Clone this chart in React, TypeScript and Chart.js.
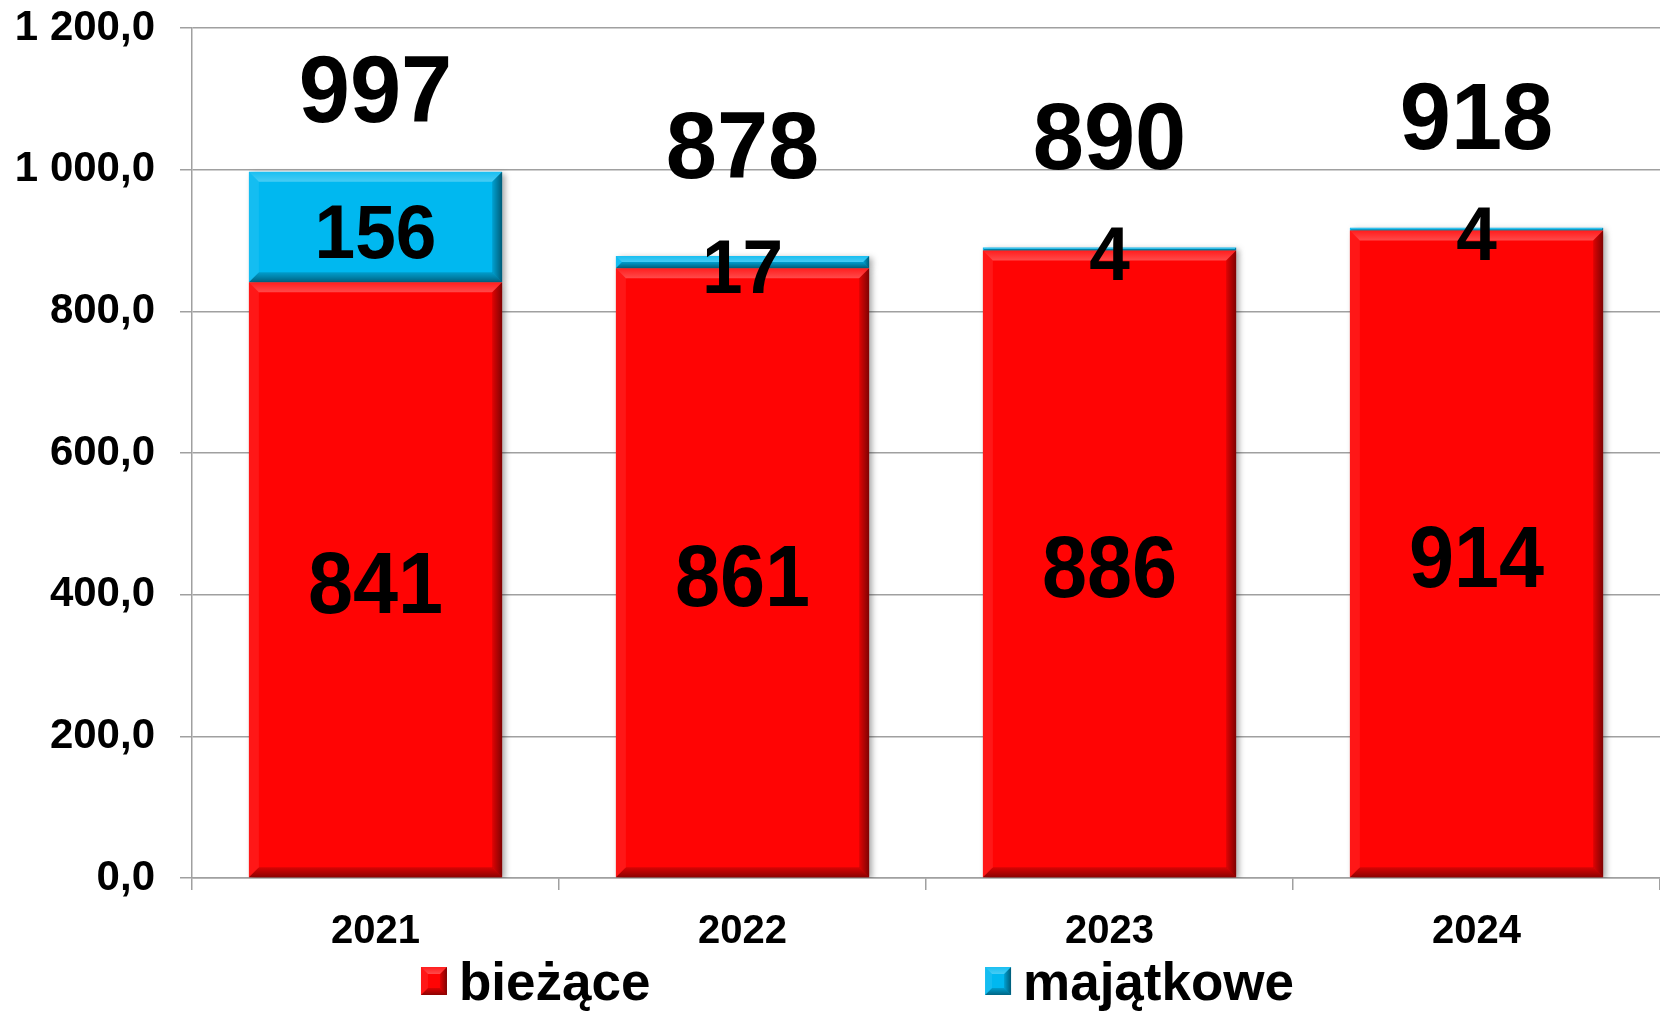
import React, { useEffect, useRef } from 'react';
import { Chart, registerables } from 'chart.js';

Chart.register(...registerables);

// ---- data ----
const categories = ['2021', '2022', '2023', '2024'];
const biezace = [841, 861, 886, 914];
const majatkowe = [156, 17, 4, 4];
const seriesLabels = ['bieżące', 'majątkowe'];
const yMin = 0;
const yMax = 1200;
const yStep = 200;

// ---- styles ----
const FONT = '"Liberation Sans", Arial, Helvetica, sans-serif';
const RED = '#FF0404';
const BLUE = '#00B8F0';
const GRID = '#a0a0a0';

function fmt(v: number): string {
  const [i, d] = v.toFixed(1).split('.');
  return i.replace(/\B(?=(\d{3})+(?!\d))/g, ' ') + ',' + d;
}

function poly(ctx: CanvasRenderingContext2D, pts: number[][], fill: string | CanvasGradient) {
  ctx.beginPath();
  ctx.moveTo(pts[0][0], pts[0][1]);
  for (let i = 1; i < pts.length; i++) ctx.lineTo(pts[i][0], pts[i][1]);
  ctx.closePath();
  ctx.fillStyle = fill;
  ctx.fill();
}

function bevel(ctx: CanvasRenderingContext2D, l: number, t: number, r: number, b: number, size: number) {
  const e = Math.max(0, Math.min(size, (b - t) / 2, (r - l) / 2));
  if (e <= 0) return;
  const gTop = ctx.createLinearGradient(0, t, 0, t + e);
  gTop.addColorStop(0, 'rgba(255,255,255,0.10)');
  gTop.addColorStop(1, 'rgba(255,255,255,0.28)');
  poly(ctx, [[l, t], [r, t], [r - e, t + e], [l + e, t + e]], gTop);
  const gBot = ctx.createLinearGradient(0, b - e, 0, b);
  gBot.addColorStop(0, 'rgba(0,0,0,0.15)');
  gBot.addColorStop(1, 'rgba(0,0,0,0.45)');
  poly(ctx, [[l, b], [r, b], [r - e, b - e], [l + e, b - e]], gBot);
  poly(ctx, [[l, t], [l + e, t + e], [l + e, b - e], [l, b]], 'rgba(255,255,255,0.08)');
  const gR = ctx.createLinearGradient(r - e, 0, r, 0);
  gR.addColorStop(0, 'rgba(0,0,0,0.12)');
  gR.addColorStop(1, 'rgba(0,0,0,0.5)');
  poly(ctx, [[r, t], [r - e, t + e], [r - e, b - e], [r, b]], gR);
}

// draws text so that the digit glyphs are visually centred on (x, cy), optionally stretched vertically
function centredText(ctx: CanvasRenderingContext2D, text: string, x: number, cy: number, size: number, sy = 1) {
  ctx.save();
  ctx.translate(x, cy);
  ctx.scale(1, sy);
  ctx.font = `bold ${size}px ${FONT}`;
  ctx.textAlign = 'center';
  ctx.textBaseline = 'alphabetic';
  ctx.fillText(text, 0, size * 0.358);
  ctx.restore();
}

const decorPlugin = {
  id: 'decor',
  beforeDatasetsDraw(chart: any) {
    const ctx = chart.ctx;
    ctx.save();
    ctx.shadowColor = 'rgba(0,0,0,0.35)';
    ctx.shadowBlur = 6;
    ctx.shadowOffsetX = 3;
    ctx.shadowOffsetY = 2;
  },
  afterDatasetsDraw(chart: any) {
    const ctx: CanvasRenderingContext2D = chart.ctx;
    ctx.restore();
    const area = chart.chartArea;
    // bevels
    chart.data.datasets.forEach((ds: any, di: number) => {
      const meta = chart.getDatasetMeta(di);
      meta.data.forEach((el: any) => {
        const p = el.getProps(['x', 'y', 'base', 'width'], true);
        const l = p.x - p.width / 2;
        const r = p.x + p.width / 2;
        const t = Math.min(p.y, p.base);
        const b = Math.max(p.y, p.base);
        bevel(ctx, l, t, r, b, 10);
      });
    });
    // value labels
    ctx.save();
    ctx.fillStyle = '#000';
    const sizes = [81, 73];
    const stretch = [1.08, 1.04];
    const shifts = [2, 4];
    chart.data.datasets.forEach((ds: any, di: number) => {
      const meta = chart.getDatasetMeta(di);
      meta.data.forEach((el: any, i: number) => {
        const p = el.getProps(['x', 'y', 'base'], true);
        const cy = (p.y + p.base) / 2 + shifts[di];
        centredText(ctx, String(ds.data[i]), p.x, cy, sizes[di], stretch[di]);
      });
    });
    // totals
    const lastMeta = chart.getDatasetMeta(chart.data.datasets.length - 1);
    categories.forEach((_, i) => {
      const total = chart.data.datasets.reduce((s: number, ds: any) => s + ds.data[i], 0);
      const el = lastMeta.data[i];
      const p = el.getProps(['x', 'y'], true);
      const cy = Math.max(p.y - 112, area.top + 60);
      centredText(ctx, String(total), p.x, cy, 92, 1.02);
    });
    ctx.restore();
  },
  afterDraw(chart: any) {
    // legend
    const ctx: CanvasRenderingContext2D = chart.ctx;
    const W = chart.width;
    const starts = [0.2536, 0.5934];
    const baseY = chart.chartArea.bottom + 122;
    ctx.save();
    ctx.font = `bold 53px ${FONT}`;
    ctx.textAlign = 'left';
    ctx.textBaseline = 'alphabetic';
    chart.data.datasets.forEach((ds: any, di: number) => {
      const x = W * starts[di];
      const bw = 26;
      const bh = 28;
      const by = baseY - 33;
      ctx.fillStyle = ds.backgroundColor;
      ctx.fillRect(x, by, bw, bh);
      bevel(ctx, x, by, x + bw, by + bh, 7);
      ctx.fillStyle = '#000';
      ctx.fillText(ds.label, x + bw + 12, baseY);
    });
    ctx.restore();
  },
};

export default function App() {
  const ref = useRef<HTMLCanvasElement>(null);
  useEffect(() => {
    if (!ref.current) return;
    const chart = new Chart(ref.current, {
      type: 'bar',
      data: {
        labels: categories,
        datasets: [
          { label: seriesLabels[0], data: biezace, backgroundColor: RED, borderWidth: 0 },
          { label: seriesLabels[1], data: majatkowe, backgroundColor: BLUE, borderWidth: 0 },
        ],
      },
      options: {
        animation: false,
        responsive: true,
        maintainAspectRatio: false,
        layout: { padding: { top: 28, left: 0, right: 0, bottom: 0 } },
        datasets: { bar: { categoryPercentage: 1, barPercentage: 0.69 } },
        plugins: { legend: { display: false }, tooltip: { enabled: false } },
        scales: {
          x: {
            stacked: true,
            offset: true,
            grid: { display: true, drawOnChartArea: false, drawTicks: true, tickLength: 12, color: GRID, lineWidth: 1.5, offset: true },
            border: { display: true, color: GRID, width: 1.5 },
            ticks: { color: '#000', font: { family: FONT, size: 40, weight: 'bold' }, padding: 18, maxRotation: 0 },
            afterFit: (s: any) => { s.height = 133; s.paddingLeft = 0; s.paddingRight = 0; s.paddingTop = 0; s.paddingBottom = 0; },
          },
          y: {
            stacked: true,
            min: yMin,
            max: yMax,
            grid: { color: GRID, lineWidth: 1.5, tickLength: 12 },
            border: { display: true, color: GRID, width: 1.5 },
            ticks: {
              stepSize: yStep,
              color: '#000',
              font: { family: FONT, size: 42, weight: 'bold' },
              padding: 25,
              callback: (v: any) => fmt(Number(v)),
            },
            afterFit: (s: any) => { s.width = 192; s.paddingTop = 0; s.paddingBottom = 0; },
          },
        },
      } as any,
      plugins: [decorPlugin],
    });
    return () => chart.destroy();
  }, []);
  return (
    <div style={{ position: 'fixed', left: 0, top: 0, width: 1660, height: 1011, background: '#fff' }}>
      <canvas ref={ref} />
    </div>
  );
}
